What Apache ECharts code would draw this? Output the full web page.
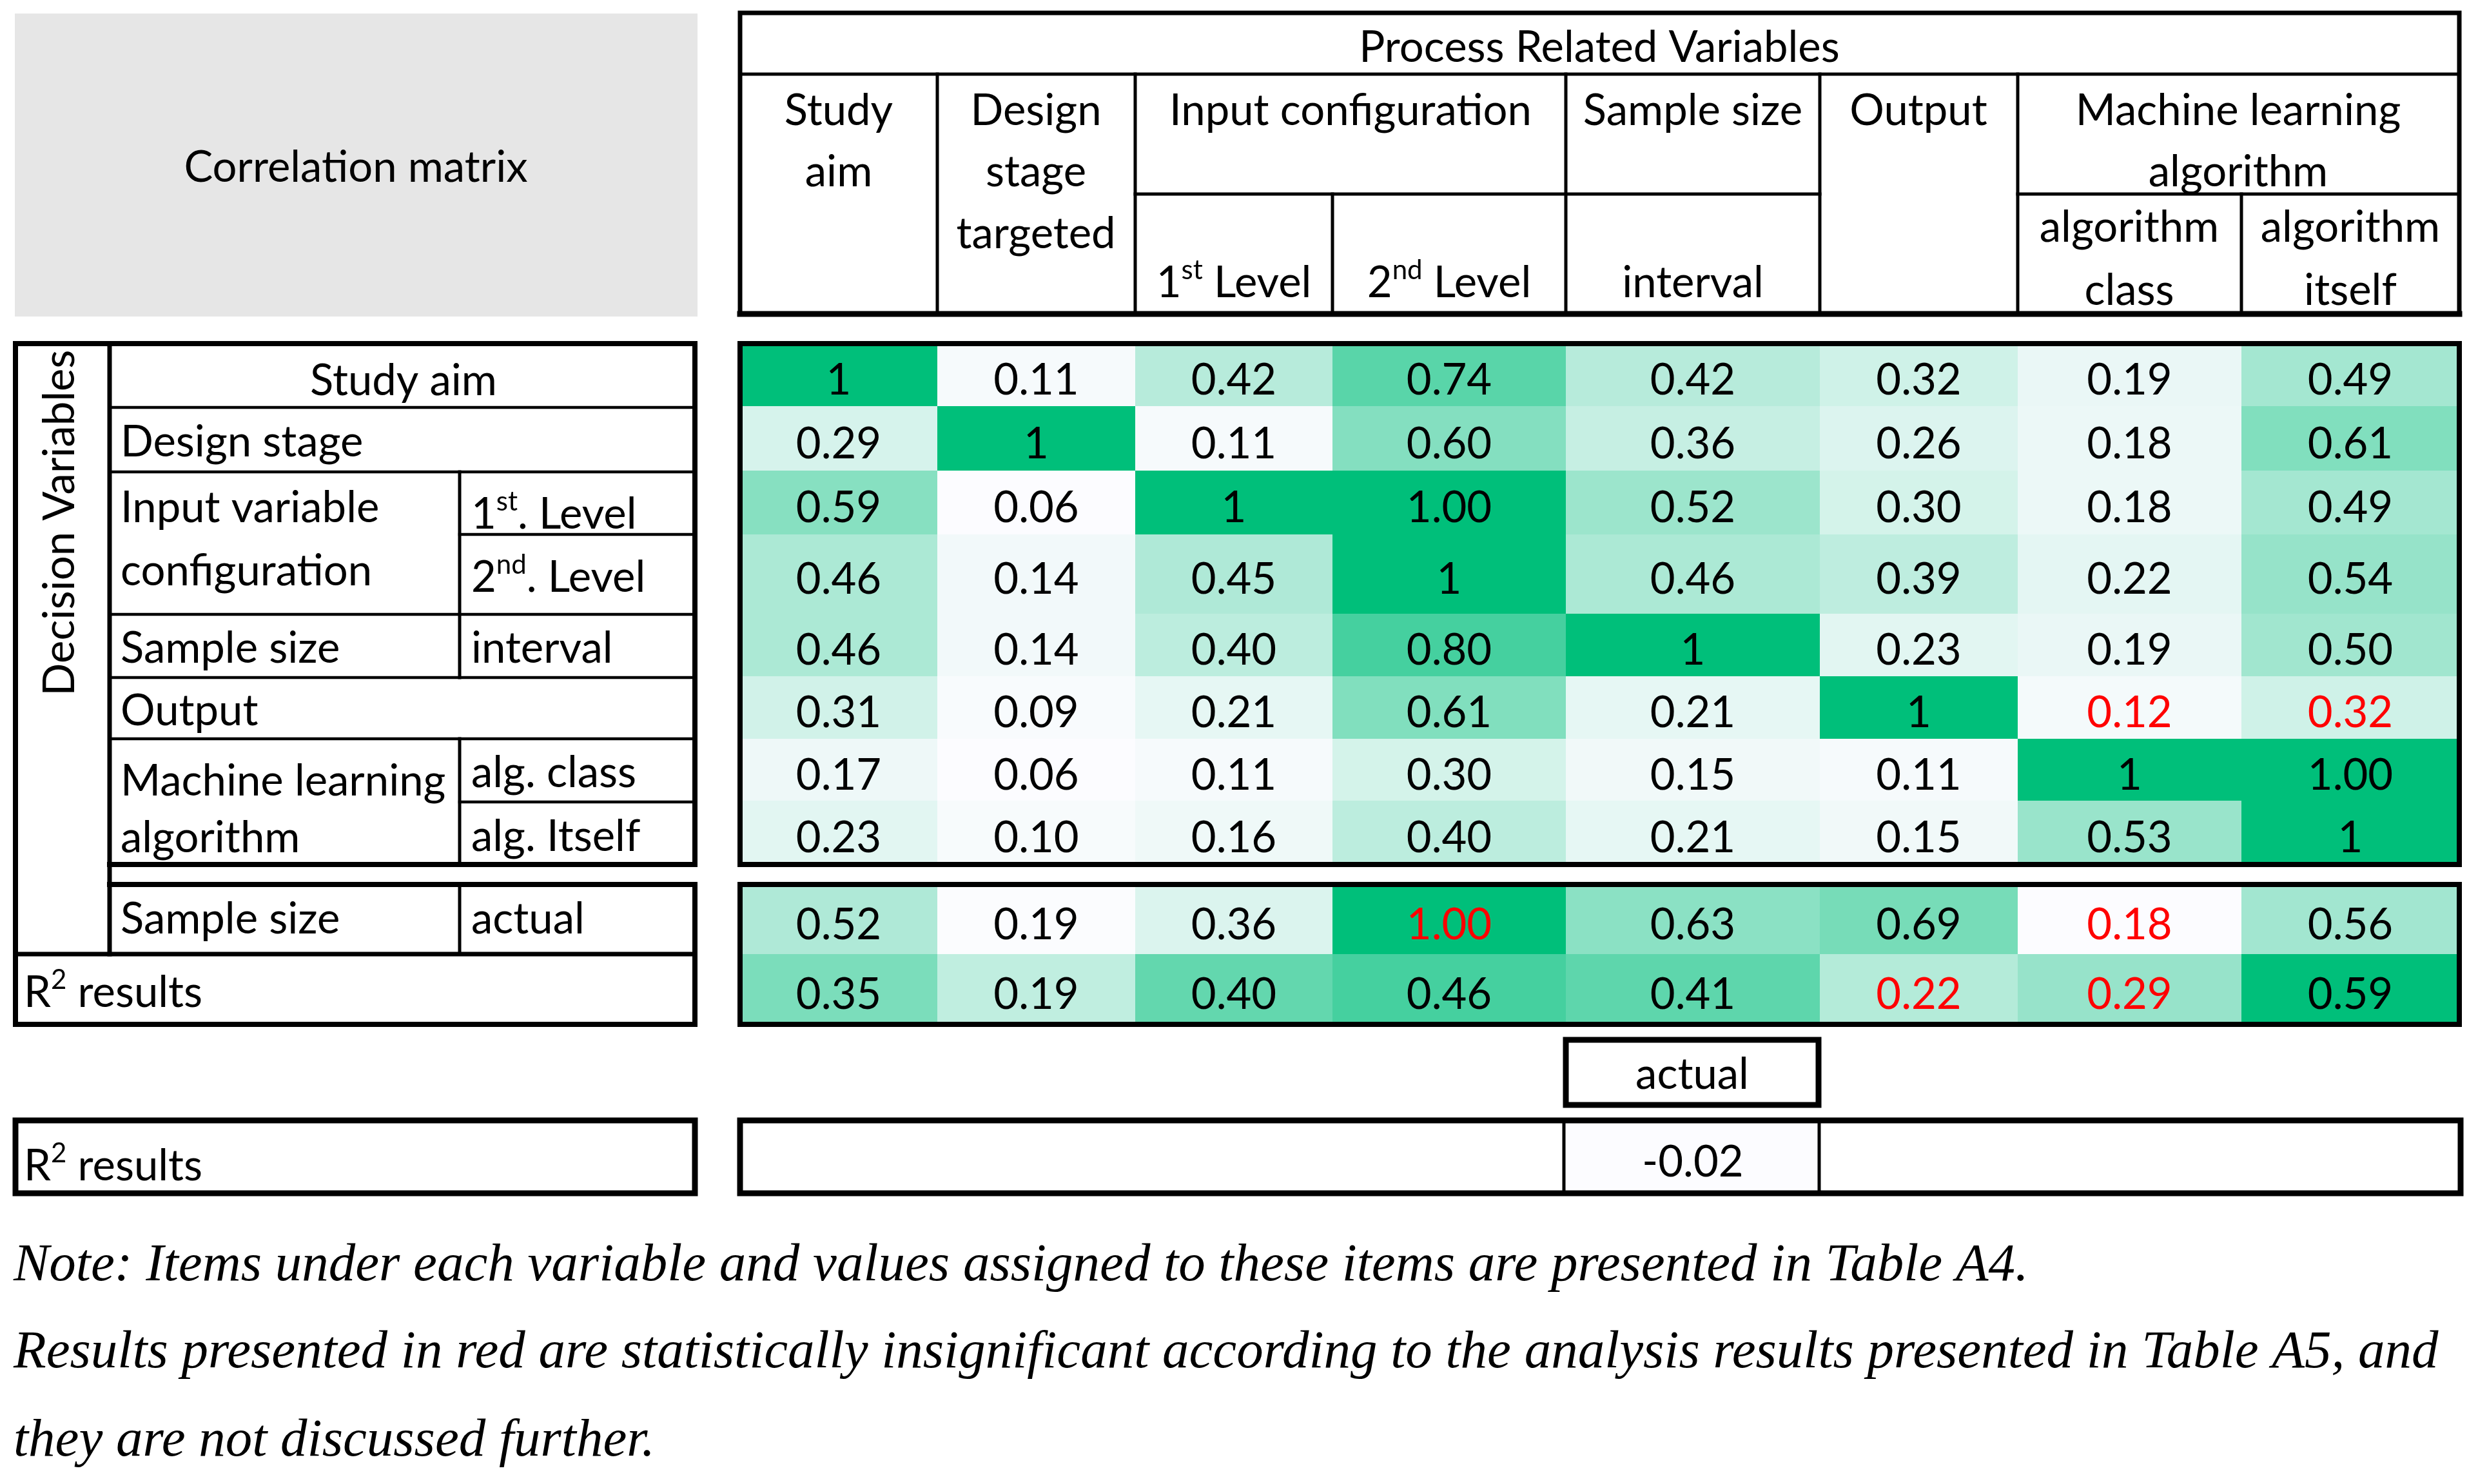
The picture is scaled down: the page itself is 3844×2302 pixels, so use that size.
<!DOCTYPE html>
<html>
<head>
<meta charset="utf-8">
<title>Correlation matrix</title>
<script src="https://cdn.jsdelivr.net/npm/echarts@6/dist/echarts.min.js"></script>
<style>
	html, body { margin: 0; padding: 0; background: #fff; }
	#chart { width: 3844px; height: 2302px; }
</style>
</head>
<body>
<div id="chart"></div>
<script>
	// columns: process related variables
	var colNames = ['Study aim', 'Design stage targeted', 'Input 1st Level', 'Input 2nd Level',
		'Sample size interval', 'Output', 'Algorithm class', 'Algorithm itself'];
	// rows: decision variables
	var rowNames = ['Study aim', 'Design stage', 'Input 1st Level', 'Input 2nd Level',
		'Sample size interval', 'Output', 'Alg. class', 'Alg. itself'];

	var rowStudyAim = [1, 0.11, 0.42, 0.74, 0.42, 0.32, 0.19, 0.49];
	var rowDesignStage = [0.29, 1, 0.11, 0.60, 0.36, 0.26, 0.18, 0.61];
	var rowInputFirst = [0.59, 0.06, 1, 1.00, 0.52, 0.30, 0.18, 0.49];
	var rowInputSecond = [0.46, 0.14, 0.45, 1, 0.46, 0.39, 0.22, 0.54];
	var rowSampleInterval = [0.46, 0.14, 0.40, 0.80, 1, 0.23, 0.19, 0.50];
	var rowOutput = [0.31, 0.09, 0.21, 0.61, 0.21, 1, 0.12, 0.32];
	var rowAlgClass = [0.17, 0.06, 0.11, 0.30, 0.15, 0.11, 1, 1.00];
	var rowAlgItself = [0.23, 0.10, 0.16, 0.40, 0.21, 0.15, 0.53, 1];
	var mainRows = [rowStudyAim, rowDesignStage, rowInputFirst, rowInputSecond,
		rowSampleInterval, rowOutput, rowAlgClass, rowAlgItself];

	var rowSampleActual = [0.52, 0.19, 0.36, 1.00, 0.63, 0.69, 0.18, 0.56];
	var rowR2 = [0.35, 0.19, 0.40, 0.46, 0.41, 0.22, 0.29, 0.59];
	var r2SampleActual = -0.02; // sits under the "Sample size" column

	// statistically insignificant results (shown in red), [row, col]
	var insigMain = [[5, 6], [5, 7]];
	var insigActual = [3, 6];
	var insigR2 = [5, 6];

	// layout of the table (px)
	var FONT = 'Lato';
	var FS = 67;
	var NOTE_FS = 83;
	var TABLE_X = 1148, TABLE_W = 2667, BODY_Y = 533, BODY_H = 1318;
	var colEdges = [0, 306, 613, 919, 1281, 1675, 1982, 2329, 2667];
	var mainRowEdges = [0, 97, 197, 296, 419, 516, 613, 709, 808];
	var actualSpan = [839, 947];
	var r2Spans = [[947, 1056], [1205, 1318]];

	function isInsig(list, r, c) {
		for (var i = 0; i < list.length; i++)
			if (list[i][0] === r && list[i][1] === c) return true;
		return false;
	}

	var mainData = [];
	for (var r = 0; r < mainRows.length; r++)
		for (var c = 0; c < mainRows[r].length; c++)
			mainData.push([c, r, mainRows[r][c], isInsig(insigMain, r, c) ? 1 : 0]);

	var actualData = rowSampleActual.map(function (v, c) {
		return [c, 0, v, insigActual.indexOf(c) >= 0 ? 1 : 0];
	});
	var r2Data = rowR2.map(function (v, c) {
		return [c, 0, v, insigR2.indexOf(c) >= 0 ? 1 : 0];
	});
	r2Data.push([4, 1, r2SampleActual, 0]);

	// white -> green scale, midtones a bit lighter like the original
	function greenStops() {
		var lo = [252, 252, 255], hi = [0, 191, 122], res = [];
		for (var i = 0; i <= 8; i++) {
			var t = Math.pow(i / 8, 1.35);
			res.push('rgb(' + lo.map(function (a, k) { return Math.round(a + (hi[k] - a) * t); }).join(',') + ')');
		}
		return res;
	}
	function minOf(arr) { return Math.min.apply(null, arr); }
	function maxOf(arr) { return Math.max.apply(null, arr); }
	var allMain = [].concat.apply([], mainRows);
	var allR2 = rowR2.concat([r2SampleActual]);

	function cellRenderer(spanOf, fmt) {
		return function (params, api) {
			var c = api.value(0), r = api.value(1), v = api.value(2);
			var span = spanOf(r);
			var p0 = api.coord([colEdges[c], span[0]]);
			var p1 = api.coord([colEdges[c + 1], span[1]]);
			return {
				type: 'group',
				children: [{
					type: 'rect',
					shape: { x: p0[0], y: p0[1], width: p1[0] - p0[0], height: p1[1] - p0[1] },
					style: { fill: api.visual('color') }
				}, {
					type: 'text',
					x: (p0[0] + p1[0]) / 2,
					y: (p0[1] + p1[1]) / 2 + 9,
					style: {
						text: fmt(v, r, c),
						fill: api.value(3) ? '#FF0000' : '#000',
						font: FS + 'px ' + FONT,
						align: 'center', verticalAlign: 'middle',
						textAlign: 'center', textVerticalAlign: 'middle'
					}
				}]
			};
		};
	}

	// ---- static table drawing (lines, headers, labels) ----
	var Z = 100;
	function line(x1, y1, x2, y2, w) {
		return { type: 'line', z: Z, shape: { x1: x1, y1: y1, x2: x2, y2: y2 },
			style: { stroke: '#000', lineWidth: w, lineCap: 'square' } };
	}
	function box(x, y, w, h, lw, fill) {
		return { type: 'rect', z: Z, shape: { x: x, y: y, width: w, height: h },
			style: { stroke: lw ? '#000' : null, lineWidth: lw || 0, fill: fill || null } };
	}
	// text placed by its baseline
	function txt(x, base, s, align, opts) {
		opts = opts || {};
		var fs = opts.fs || FS;
		var k = opts.k !== undefined ? opts.k : 0.30;
		var font = (opts.italic ? 'italic ' : '') + fs + 'px ' + (opts.family || FONT);
		var st = {
			text: s, fill: '#000', font: font,
			align: align, verticalAlign: 'middle',
			textAlign: align, textVerticalAlign: 'middle'
		};
		if (opts.rich) {
			st.lineHeight = 80;
			st.rich = {
				s: { fontSize: Math.round(fs * 0.62), fontFamily: opts.family || FONT, lineHeight: 26, verticalAlign: 'top' }
			};
		}
		return { type: 'text', z: Z + 1, x: x, y: base - fs * k,
			rotation: opts.rotation || 0, style: st };
	}

	var g = [];
	// corner cell
	g.push(box(23, 21, 1059, 470, 0, '#E6E6E6'));
	g.push(txt(552, 280, 'Correlation matrix', 'center'));

	// header block
	g.push(box(1148, 20, 2667, 467, 7));
	g.push(line(1148, 487, 3815, 487, 9));
	g.push(line(1148, 115, 3815, 115, 5));
	[1454, 1761, 2429, 2823, 3130].forEach(function (x) { g.push(line(x, 115, x, 487, 5)); });
	[2067, 3477].forEach(function (x) { g.push(line(x, 301, x, 487, 5)); });
	g.push(line(1761, 301, 2823, 301, 5));
	g.push(line(3130, 301, 3815, 301, 5));

	g.push(txt(2481, 94, 'Process Related Variables', 'center'));
	g.push(txt(1301, 192, 'Study', 'center'));
	g.push(txt(1301, 287, 'aim', 'center'));
	g.push(txt(1607, 192, 'Design', 'center'));
	g.push(txt(1607, 287, 'stage', 'center'));
	g.push(txt(1607, 383, 'targeted', 'center'));
	g.push(txt(2095, 192, 'Input configuration', 'center'));
	g.push(txt(1914, 459, '1{s|st} Level', 'center', { rich: true }));
	g.push(txt(2248, 459, '2{s|nd} Level', 'center', { rich: true }));
	g.push(txt(2626, 192, 'Sample size', 'center'));
	g.push(txt(2626, 459, 'interval', 'center'));
	g.push(txt(2976, 192, 'Output', 'center'));
	g.push(txt(3472, 192, 'Machine learning', 'center'));
	g.push(txt(3472, 287, 'algorithm', 'center'));
	g.push(txt(3303, 373, 'algorithm', 'center'));
	g.push(txt(3303, 471, 'class', 'center'));
	g.push(txt(3646, 373, 'algorithm', 'center'));
	g.push(txt(3646, 471, 'itself', 'center'));

	// row label block
	g.push(line(24, 533, 24, 1589, 8));
	g.push(line(24, 533, 1078, 533, 8));
	g.push(line(1078, 533, 1078, 1341, 8));
	g.push(line(1078, 1372, 1078, 1589, 8));
	g.push(line(170, 1341, 1078, 1341, 8));
	g.push(line(170, 1372, 1078, 1372, 8));
	g.push(line(24, 1480, 1078, 1480, 7));
	g.push(line(24, 1589, 1078, 1589, 8));
	g.push(line(170, 533, 170, 1480, 7));
	[632, 732, 953, 1051, 1146].forEach(function (y) { g.push(line(170, y, 1078, y, 4.5)); });
	[829, 1244].forEach(function (y) { g.push(line(713, y, 1078, y, 4.5)); });
	g.push(line(713, 732, 713, 1051, 5));
	g.push(line(713, 1146, 713, 1341, 5));
	g.push(line(713, 1372, 713, 1480, 5));

	g.push(txt(93, 811, 'Decision Variables', 'center', { rotation: Math.PI / 2, k: 0 }));
	g.push(txt(626, 611, 'Study aim', 'center'));
	g.push(txt(187, 706, 'Design stage', 'left'));
	g.push(txt(187, 808, 'Input variable', 'left'));
	g.push(txt(187, 906, 'configuration', 'left'));
	g.push(txt(731, 818, '1{s|st}. Level', 'left', { rich: true }));
	g.push(txt(731, 916, '2{s|nd}. Level', 'left', { rich: true }));
	g.push(txt(187, 1026, 'Sample size', 'left'));
	g.push(txt(731, 1026, 'interval', 'left'));
	g.push(txt(187, 1123, 'Output', 'left'));
	g.push(txt(187, 1232, 'Machine learning', 'left'));
	g.push(txt(187, 1320, 'algorithm', 'left'));
	g.push(txt(731, 1219, 'alg. class', 'left'));
	g.push(txt(731, 1318, 'alg. Itself', 'left'));
	g.push(txt(187, 1446, 'Sample size', 'left'));
	g.push(txt(731, 1446, 'actual', 'left'));
	g.push(txt(37, 1560, 'R{s|2} results', 'left', { rich: true }));

	// borders of the value blocks
	g.push(box(1148, 533, 2667, 808, 8));
	g.push(box(1148, 1372, 2667, 217, 8));

	// bottom R2 row for actual sample size
	g.push(box(2429, 1613, 392, 101, 9));
	g.push(txt(2625, 1687, 'actual', 'center'));
	g.push(box(24, 1738, 1054, 113, 9));
	g.push(txt(37, 1829, 'R{s|2} results', 'left', { rich: true }));
	g.push(box(1148, 1738, 2669, 113, 9));
	g.push(line(2426, 1738, 2426, 1851, 5));
	g.push(line(2822, 1738, 2822, 1851, 5));

	// notes
	var noteOpts = { fs: NOTE_FS, italic: true, family: '"Liberation Serif"', k: 0.27 };
	g.push(txt(21, 1987, 'Note: Items under each variable and values assigned to these items are presented in Table A4.', 'left', noteOpts));
	g.push(txt(21, 2122, 'Results presented in red are statistically insignificant according to the analysis results presented in Table A5, and', 'left', noteOpts));
	g.push(txt(21, 2259, 'they are not discussed further.', 'left', noteOpts));

	var chart = echarts.init(document.getElementById('chart'), null, { renderer: 'canvas' });
	chart.setOption({
		animation: false,
		backgroundColor: '#fff',
		textStyle: { fontFamily: FONT },
		grid: { left: TABLE_X, top: BODY_Y, width: TABLE_W, height: BODY_H },
		xAxis: { type: 'value', min: 0, max: TABLE_W, show: false },
		yAxis: { type: 'value', min: 0, max: BODY_H, inverse: true, show: false },
		visualMap: [
			{ type: 'continuous', show: false, seriesIndex: 0, dimension: 2,
				min: minOf(allMain), max: maxOf(allMain), inRange: { color: greenStops() } },
			{ type: 'continuous', show: false, seriesIndex: 1, dimension: 2,
				min: minOf(rowSampleActual), max: maxOf(rowSampleActual), inRange: { color: greenStops() } },
			{ type: 'continuous', show: false, seriesIndex: 2, dimension: 2,
				min: minOf(allR2), max: maxOf(allR2), inRange: { color: greenStops() } }
		],
		series: [{
			name: 'Decision variables',
			type: 'custom',
			data: mainData,
			renderItem: cellRenderer(function (r) { return [mainRowEdges[r], mainRowEdges[r + 1]]; },
				function (v, r, c) { return r === c ? String(v) : v.toFixed(2); })
		}, {
			name: 'Sample size actual',
			type: 'custom',
			data: actualData,
			renderItem: cellRenderer(function () { return actualSpan; },
				function (v) { return v.toFixed(2); })
		}, {
			name: 'R2 results',
			type: 'custom',
			data: r2Data,
			renderItem: cellRenderer(function (r) { return r2Spans[r]; },
				function (v) { return v.toFixed(2); })
		}],
		graphic: { elements: g }
	});
</script>
</body>
</html>
